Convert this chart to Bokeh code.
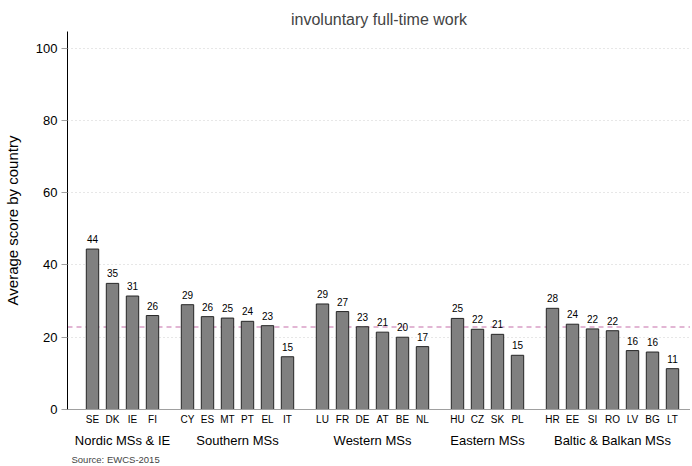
from bokeh.plotting import figure
from bokeh.models import (ColumnDataSource, FixedTicker, LinearAxis, Span, Title, Range1d)
from bokeh.embed import file_html
from bokeh.resources import INLINE

# ---- data ----
groups = ["Nordic MSs & IE", "Southern MSs", "Western MSs", "Eastern MSs", "Baltic & Balkan MSs"]
group_members = [
    ["SE", "DK", "IE", "FI"],
    ["CY", "ES", "MT", "PT", "EL", "IT"],
    ["LU", "FR", "DE", "AT", "BE", "NL"],
    ["HU", "CZ", "SK", "PL"],
    ["HR", "EE", "SI", "RO", "LV", "BG", "LT"],
]
values = [
    [44.4, 34.9, 31.4, 26.0],
    [29.0, 25.7, 25.3, 24.4, 23.2, 14.6],
    [29.2, 27.1, 22.9, 21.4, 20.0, 17.4],
    [25.2, 22.2, 20.8, 15.0],
    [28.0, 23.6, 22.3, 21.8, 16.3, 15.9, 11.3],
]
reference_value = 22.8
y_ticks = [0, 20, 40, 60, 80, 100]
title_text = "involuntary full-time work"
y_label = "Average score by country"
source_text = "Source: EWCS-2015"

FONT = "Liberation Sans"
GAP = 0.75

# ---- positions ----
xs, names, tops, group_centers = [], [], [], []
pos = 0.0
for members, vals in zip(group_members, values):
    start = pos
    for m, v in zip(members, vals):
        xs.append(pos)
        names.append(m)
        tops.append(v)
        pos += 1
    group_centers.append((start + pos - 1) / 2)
    pos += GAP

labels = [str(int(round(v))) for v in tops]
src = ColumnDataSource(dict(x=xs, top=tops, label=labels))

p = figure(frame_width=623, frame_height=378, output_backend="svg", toolbar_location=None,
           x_range=Range1d(-1.25, 29.9), y_range=Range1d(0, 104.6),
           x_axis_location=None, min_border_left=67, min_border_right=0,
           min_border_top=31, min_border_bottom=0)
p.outline_line_color = None
p.background_fill_color = "white"

p.title.text = title_text
p.title.text_font = FONT
p.title.text_font_size = "16px"
p.title.text_font_style = "normal"
p.title.align = "center"
p.title.standoff = 8

# y axis
yax = p.yaxis[0]
yax.ticker = FixedTicker(ticks=y_ticks)
yax.axis_line_color = "black"
yax.axis_line_width = 1
yax.major_tick_line_color = "#a0a0a0"
yax.major_tick_out = 6
yax.major_tick_in = 0
yax.minor_tick_line_color = None
yax.major_label_text_font = FONT
yax.major_label_text_font_size = "13px"
yax.major_label_text_color = "black"
yax.major_label_standoff = 4
yax.axis_label = y_label
yax.axis_label_text_font = FONT
yax.axis_label_text_font_size = "15px"
yax.axis_label_text_font_style = "normal"
yax.axis_label_text_color = "black"
yax.axis_label_standoff = 12

p.xgrid.visible = False
p.ygrid.ticker = FixedTicker(ticks=y_ticks[1:])
p.ygrid.grid_line_color = "#cfcfcf"
p.ygrid.grid_line_dash = "1 3"
p.ygrid.grid_line_width = 1

# country axis
cax = LinearAxis(ticker=FixedTicker(ticks=xs),
                 major_label_overrides={x: n for x, n in zip(xs, names)})
cax.axis_line_color = "#a0a0a0"
cax.major_tick_line_color = None
cax.major_tick_out = 0
cax.major_tick_in = 0
cax.minor_tick_line_color = None
cax.minor_tick_out = 0
cax.major_label_text_font = FONT
cax.major_label_text_font_size = "10px"
cax.major_label_text_color = "black"
cax.major_label_standoff = 4
p.add_layout(cax, "below")

# group axis
gax = LinearAxis(ticker=FixedTicker(ticks=group_centers),
                 major_label_overrides={x: g for x, g in zip(group_centers, groups)})
gax.axis_line_color = None
gax.major_tick_line_color = None
gax.major_tick_out = 0
gax.major_tick_in = 0
gax.minor_tick_line_color = None
gax.minor_tick_out = 0
gax.major_label_text_font = FONT
gax.major_label_text_font_size = "13px"
gax.major_label_text_color = "black"
gax.major_label_standoff = 5
p.add_layout(gax, "below")

st = Title(text=source_text, align="left", text_font=FONT, text_font_size="9.5px",
           text_font_style="normal", standoff=2, offset=4)
p.add_layout(st, "below")

ref = Span(location=reference_value, dimension="width", line_color="#d99fc6",
           line_dash="5 4", line_width=1.5, level="underlay")
p.add_layout(ref)

p.vbar(x="x", top="top", bottom=0, width=0.62, source=src,
       fill_color="#808080", line_color="#262626", line_width=1)
p.text(x="x", y="top", text="label", source=src, text_align="center",
       text_baseline="bottom", y_offset=-6, text_font={"value": FONT},
       text_font_size="10px", text_color="black")

open("out.html", "w").write(file_html(p, INLINE))
